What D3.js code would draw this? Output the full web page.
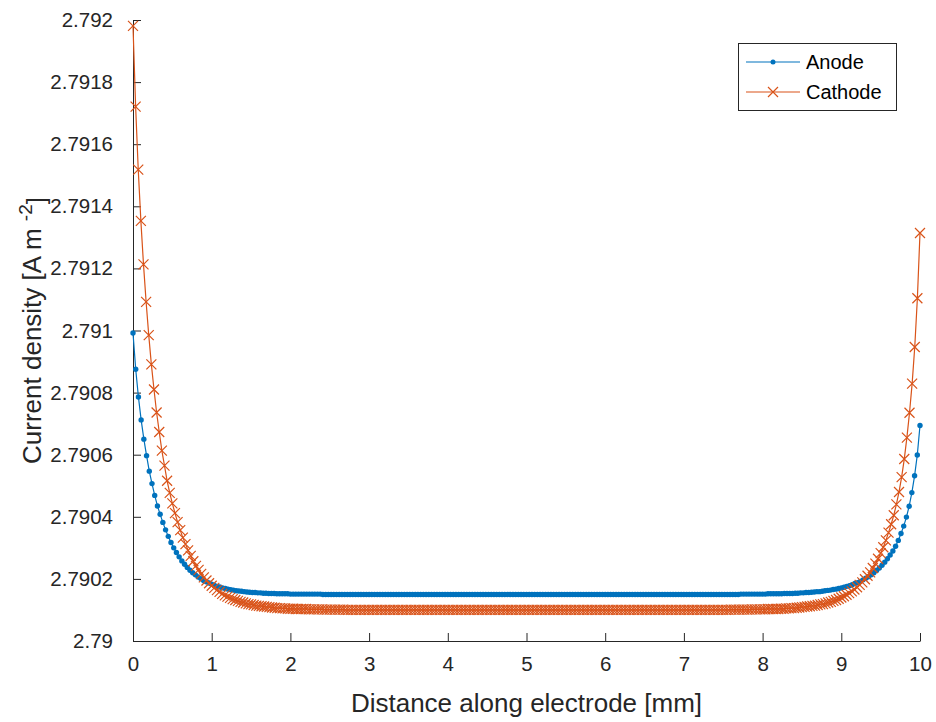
<!DOCTYPE html>
<html>
<head>
<meta charset="utf-8">
<script src="https://cdn.jsdelivr.net/npm/d3@7"></script>
<style>
  html, body { margin: 0; padding: 0; background: #fff; }
  svg { display: block; font-family: "Liberation Sans", Arial, Helvetica, sans-serif; }
</style>
</head>
<body>
<svg id="chart" width="936" height="722"></svg>
<script>
// ---- data ----
const xDomain = [0, 10];
const xTickValues = [0, 1, 2, 3, 4, 5, 6, 7, 8, 9, 10];
const xTickLabels = ["0", "1", "2", "3", "4", "5", "6", "7", "8", "9", "10"];
const yTickValues = [2.79, 2.7902, 2.7904, 2.7906, 2.7908, 2.791, 2.7912, 2.7914, 2.7916, 2.7918, 2.792];
const yTickLabels = ["2.79", "2.7902", "2.7904", "2.7906", "2.7908", "2.791", "2.7912", "2.7914", "2.7916", "2.7918", "2.792"];
const seriesNames = ["Anode", "Cathode"];

const anode = [
  2.790992, 2.790875, 2.790786, 2.790712, 2.790650, 2.790597, 2.790547, 2.790507, 2.790469, 2.790435,
  2.790408, 2.790382, 2.790358, 2.790337, 2.790317, 2.790300, 2.790285, 2.790271, 2.790258, 2.790247,
  2.790237, 2.790228, 2.790220, 2.790213, 2.790206, 2.790201, 2.790195, 2.790191, 2.790187, 2.790183,
  2.790179, 2.790176, 2.790174, 2.790171, 2.790169, 2.790167, 2.790165, 2.790164, 2.790162, 2.790161,
  2.790160, 2.790159, 2.790158, 2.790157, 2.790156, 2.790156, 2.790155, 2.790155, 2.790154, 2.790154,
  2.790153, 2.790153, 2.790153, 2.790152, 2.790152, 2.790152, 2.790152, 2.790152, 2.790151, 2.790151,
  2.790151, 2.790151, 2.790151, 2.790151, 2.790151, 2.790151, 2.790151, 2.790151, 2.790151, 2.790151,
  2.790150, 2.790150, 2.790150, 2.790150, 2.790150, 2.790150, 2.790150, 2.790150, 2.790150, 2.790150,
  2.790150, 2.790150, 2.790150, 2.790150, 2.790150, 2.790150, 2.790150, 2.790150, 2.790150, 2.790150,
  2.790150, 2.790150, 2.790150, 2.790150, 2.790150, 2.790150, 2.790150, 2.790150, 2.790150, 2.790150,
  2.790150, 2.790150, 2.790150, 2.790150, 2.790150, 2.790150, 2.790150, 2.790150, 2.790150, 2.790150,
  2.790150, 2.790150, 2.790150, 2.790150, 2.790150, 2.790150, 2.790150, 2.790150, 2.790150, 2.790150,
  2.790150, 2.790150, 2.790150, 2.790150, 2.790150, 2.790150, 2.790150, 2.790150, 2.790150, 2.790150,
  2.790150, 2.790150, 2.790150, 2.790150, 2.790150, 2.790150, 2.790150, 2.790150, 2.790150, 2.790150,
  2.790150, 2.790150, 2.790150, 2.790150, 2.790150, 2.790150, 2.790150, 2.790150, 2.790150, 2.790150,
  2.790150, 2.790150, 2.790150, 2.790150, 2.790150, 2.790150, 2.790150, 2.790150, 2.790150, 2.790150,
  2.790150, 2.790150, 2.790150, 2.790150, 2.790150, 2.790150, 2.790150, 2.790150, 2.790150, 2.790150,
  2.790150, 2.790150, 2.790150, 2.790150, 2.790150, 2.790150, 2.790150, 2.790150, 2.790150, 2.790150,
  2.790150, 2.790150, 2.790150, 2.790150, 2.790150, 2.790150, 2.790150, 2.790150, 2.790150, 2.790150,
  2.790150, 2.790150, 2.790150, 2.790150, 2.790150, 2.790150, 2.790150, 2.790150, 2.790150, 2.790150,
  2.790150, 2.790150, 2.790150, 2.790150, 2.790150, 2.790150, 2.790150, 2.790150, 2.790150, 2.790150,
  2.790150, 2.790150, 2.790150, 2.790150, 2.790150, 2.790150, 2.790150, 2.790150, 2.790150, 2.790150,
  2.790150, 2.790150, 2.790150, 2.790150,
  2.790151, 2.790151, 2.790151, 2.790151, 2.790151, 2.790151, 2.790151, 2.790151, 2.790151, 2.790151,
  2.790152, 2.790152, 2.790152, 2.790152, 2.790152, 2.790152, 2.790153, 2.790153, 2.790153, 2.790153,
  2.790154, 2.790154, 2.790155, 2.790155, 2.790156, 2.790156, 2.790157, 2.790158, 2.790159, 2.790159,
  2.790160, 2.790162, 2.790163, 2.790164, 2.790166, 2.790167, 2.790169, 2.790171, 2.790173, 2.790176,
  2.790178, 2.790181, 2.790185, 2.790188, 2.790192, 2.790197, 2.790202, 2.790207, 2.790213, 2.790220,
  2.790227, 2.790235, 2.790244, 2.790254, 2.790265, 2.790277, 2.790290, 2.790305, 2.790324, 2.790346,
  2.790370, 2.790399, 2.790434, 2.790478, 2.790532, 2.790599, 2.790694
];

const cathode = [
  2.791981, 2.791721, 2.791518, 2.791353, 2.791213, 2.791092, 2.790985, 2.790891, 2.790810, 2.790736,
  2.790673, 2.790613, 2.790565, 2.790516, 2.790477, 2.790443, 2.790412, 2.790383, 2.790357, 2.790333,
  2.790312, 2.790292, 2.790274, 2.790257, 2.790242, 2.790229, 2.790216, 2.790205, 2.790195, 2.790186,
  2.790178, 2.790171, 2.790164, 2.790158, 2.790152, 2.790147, 2.790143, 2.790139, 2.790135, 2.790132,
  2.790129, 2.790126, 2.790124, 2.790121, 2.790119, 2.790118, 2.790116, 2.790114, 2.790113, 2.790112,
  2.790111, 2.790110, 2.790109, 2.790108, 2.790107, 2.790106, 2.790106, 2.790105, 2.790105, 2.790104,
  2.790104, 2.790104, 2.790103, 2.790103, 2.790103, 2.790103, 2.790103, 2.790102, 2.790102, 2.790102,
  2.790102, 2.790102, 2.790102, 2.790101, 2.790101, 2.790101, 2.790101, 2.790101, 2.790101, 2.790101,
  2.790101,
  2.790100, 2.790100, 2.790100, 2.790100, 2.790100, 2.790100, 2.790100, 2.790100, 2.790100, 2.790100,
  2.790100, 2.790100, 2.790100, 2.790100, 2.790100, 2.790100, 2.790100, 2.790100, 2.790100, 2.790100,
  2.790100, 2.790100, 2.790100, 2.790100, 2.790100, 2.790100, 2.790100, 2.790100, 2.790100, 2.790100,
  2.790100, 2.790100, 2.790100, 2.790100, 2.790100, 2.790100, 2.790100, 2.790100, 2.790100, 2.790100,
  2.790100, 2.790100, 2.790100, 2.790100, 2.790100, 2.790100, 2.790100, 2.790100, 2.790100, 2.790100,
  2.790100, 2.790100, 2.790100, 2.790100, 2.790100, 2.790100, 2.790100, 2.790100, 2.790100, 2.790100,
  2.790100, 2.790100, 2.790100, 2.790100, 2.790100, 2.790100, 2.790100, 2.790100, 2.790100, 2.790100,
  2.790100, 2.790100, 2.790100, 2.790100, 2.790100, 2.790100, 2.790100, 2.790100, 2.790100, 2.790100,
  2.790100, 2.790100, 2.790100, 2.790100, 2.790100, 2.790100, 2.790100, 2.790100, 2.790100, 2.790100,
  2.790100, 2.790100, 2.790100, 2.790100, 2.790100, 2.790100, 2.790100, 2.790100, 2.790100, 2.790100,
  2.790100, 2.790100, 2.790100, 2.790100, 2.790100, 2.790100, 2.790100, 2.790100, 2.790100, 2.790100,
  2.790100, 2.790100, 2.790100, 2.790100, 2.790100, 2.790100, 2.790100, 2.790100, 2.790100, 2.790100,
  2.790100, 2.790100, 2.790100, 2.790100, 2.790100, 2.790100, 2.790100, 2.790100, 2.790100, 2.790100,
  2.790100, 2.790100, 2.790100, 2.790100, 2.790100, 2.790100, 2.790100, 2.790100, 2.790100, 2.790100,
  2.790100, 2.790100, 2.790100, 2.790100, 2.790100, 2.790100, 2.790100,
  2.790101, 2.790101, 2.790101, 2.790101, 2.790101, 2.790101, 2.790101, 2.790101,
  2.790102, 2.790102, 2.790102, 2.790102, 2.790102, 2.790102,
  2.790103, 2.790103, 2.790103, 2.790103, 2.790103, 2.790104, 2.790104, 2.790105, 2.790105, 2.790106,
  2.790106, 2.790107, 2.790108, 2.790109, 2.790110, 2.790111, 2.790112, 2.790113, 2.790114, 2.790116,
  2.790118, 2.790119, 2.790121, 2.790124, 2.790126, 2.790129, 2.790132, 2.790136, 2.790140, 2.790144,
  2.790149, 2.790154, 2.790160, 2.790166, 2.790173, 2.790181, 2.790189, 2.790199, 2.790210, 2.790221,
  2.790235, 2.790249, 2.790265, 2.790283, 2.790302, 2.790324, 2.790349, 2.790376, 2.790405, 2.790440,
  2.790480, 2.790528, 2.790586, 2.790655, 2.790735, 2.790829, 2.790947, 2.791104, 2.791314
];

// ---- layout ----
const svg = d3.select("#chart");
const plot = { left: 133, right: 920, top: 20, bottom: 641 };
const textColor = "#262626";
const axisColor = "#262626";
const colors = ["#0072BD", "#D95319"];

const x = d3.scaleLinear().domain(xDomain).range([plot.left, plot.right]);
const y = d3.scaleLinear().domain([yTickValues[0], yTickValues[yTickValues.length - 1]]).range([plot.bottom, plot.top]);

// position along electrode: evenly spaced mesh across the domain
const distOf = (arr, i) => xDomain[0] + (xDomain[1] - xDomain[0]) * i / (arr.length - 1);
const seriesData = [anode, cathode].map(arr => arr.map((v, i) => ({ d: distOf(arr, i), v })));

// ---- axes ----
const xAxis = d3.axisBottom(x).tickValues(xTickValues).tickFormat((d, i) => xTickLabels[i])
  .tickSizeInner(-8).tickSizeOuter(0).tickPadding(15);
const yAxis = d3.axisLeft(y).tickValues(yTickValues).tickFormat((d, i) => yTickLabels[i])
  .tickSizeInner(-8).tickSizeOuter(0).tickPadding(20);

const gx = svg.append("g").attr("transform", `translate(0,${plot.bottom})`).call(xAxis);
const gy = svg.append("g").attr("transform", `translate(${plot.left},0)`).call(yAxis);
[gx, gy].forEach(g => {
  g.select(".domain").attr("stroke", axisColor).attr("stroke-width", 1);
  g.selectAll(".tick line").attr("stroke", axisColor).attr("stroke-width", 1);
  g.selectAll(".tick text").attr("fill", textColor).style("font-size", "20.5px")
    .style("font-family", '"Liberation Sans", Arial, sans-serif');
});
gx.selectAll(".tick text").attr("dy", "0.71em");

// axis labels
svg.append("text")
  .attr("x", (plot.left + plot.right) / 2).attr("y", 712)
  .attr("text-anchor", "middle").attr("fill", textColor)
  .style("font-size", "26px")
  .text("Distance along electrode [mm]");

const yl = svg.append("text")
  .attr("transform", `translate(41,${(plot.top + plot.bottom) / 2}) rotate(-90)`)
  .attr("text-anchor", "middle").attr("fill", textColor)
  .style("font-size", "26px");
yl.append("tspan").text("Current density [A m ");
yl.append("tspan").attr("dy", "-0.5em").style("font-size", "19px").text("-2");
yl.append("tspan").attr("dy", "0.5em").text("]");

// ---- series ----
const line = d3.line().x(p => x(p.d)).y(p => y(p.v));
const g = svg.append("g");

// anode
g.append("path").datum(seriesData[0]).attr("d", line)
  .attr("fill", "none").attr("stroke", colors[0]).attr("stroke-width", 1.2);
g.append("g").selectAll("circle").data(seriesData[0]).join("circle")
  .attr("cx", p => x(p.d)).attr("cy", p => y(p.v)).attr("r", 2.7)
  .attr("fill", colors[0]);

// cathode
g.append("path").datum(seriesData[1]).attr("d", line)
  .attr("fill", "none").attr("stroke", colors[1]).attr("stroke-width", 1.2);
const cr = 5;
g.append("g").selectAll("path").data(seriesData[1]).join("path")
  .attr("d", p => {
    const cx = x(p.d), cy = y(p.v);
    return `M${cx - cr},${cy - cr}L${cx + cr},${cy + cr}M${cx - cr},${cy + cr}L${cx + cr},${cy - cr}`;
  })
  .attr("fill", "none").attr("stroke", colors[1]).attr("stroke-width", 1.2);

// ---- legend ----
const lg = svg.append("g");
lg.append("rect").attr("x", 738.5).attr("y", 43.5).attr("width", 158).attr("height", 67)
  .attr("fill", "#fff").attr("stroke", "#262626").attr("stroke-width", 1);
const ly = [62, 92];
seriesNames.forEach((name, i) => {
  lg.append("line").attr("x1", 746).attr("x2", 800).attr("y1", ly[i]).attr("y2", ly[i])
    .attr("stroke", colors[i]).attr("stroke-width", 1.2);
  if (i === 0) {
    lg.append("circle").attr("cx", 773).attr("cy", ly[i]).attr("r", 2.5).attr("fill", colors[i]);
  } else {
    lg.append("path")
      .attr("d", `M${773 - cr},${ly[i] - cr}L${773 + cr},${ly[i] + cr}M${773 - cr},${ly[i] + cr}L${773 + cr},${ly[i] - cr}`)
      .attr("stroke", colors[i]).attr("stroke-width", 1.2).attr("fill", "none");
  }
  lg.append("text").attr("x", 806).attr("y", ly[i]).attr("dy", "0.35em")
    .attr("fill", "#000").style("font-size", "20px").text(name);
});
</script>
</body>
</html>
